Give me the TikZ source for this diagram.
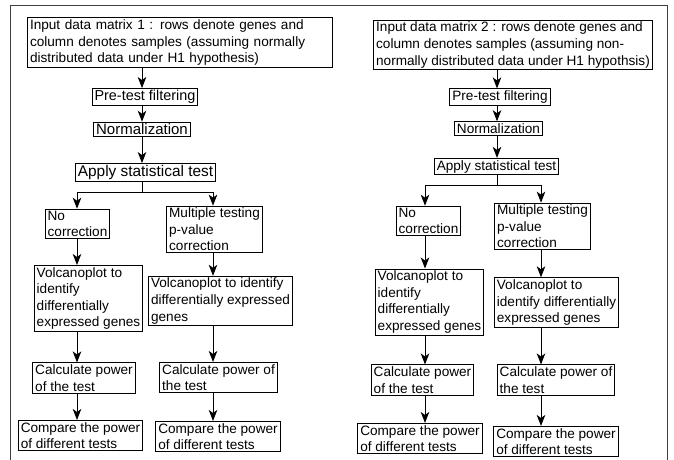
\documentclass[tikz,border=0pt]{standalone}
\usepackage{fontspec}
\setmainfont{Liberation Sans}
\usetikzlibrary{arrows.meta}

\begin{document}
\begin{tikzpicture}[x=1pt,y=-1pt,
    box/.style={draw,line width=0.9pt,align=left,inner xsep=2.5pt,inner ysep=1.8pt,font=\fontsize{13.6}{16.6}\selectfont},
    flow/.style={-{Stealth[length=11pt,width=8.5pt,inset=3pt]},line width=0.9pt}]
    \useasboundingbox (0,0) rectangle (674,459);
    \draw[line width=1pt,black!75] (10,470) -- (10,5) -- (667,5) -- (667,470);
    % columns of the arrows
    \coordinate (colA1) at (142,192);
    \coordinate (colL1) at (77,0);
    \coordinate (colR1) at (213,0);
    \coordinate (colA2) at (497,185);
    \coordinate (colL2) at (425,0);
    \coordinate (colR2) at (541,0);
    % first matrix
    \node[box,text width=300pt] (in1) at (180,42.5) {Input data matrix 1 : rows denote genes and\\column denotes samples (assuming normally\\distributed data under H1 hypothesis)};
    \node[box,font=\fontsize{14.4}{16.5}\selectfont] (pre1) at (145,97) {Pre-test filtering};
    \node[box,font=\fontsize{15}{16.5}\selectfont] (norm1) at (142,129.5) {Normalization};
    \node[box,font=\fontsize{15.4}{17}\selectfont] (app1) at (145.5,172.5) {Apply statistical test};
    \node[box] (noc1) at (77.5,224) {No\\correction};
    \node[box] (mul1) at (214.5,229.5) {Multiple testing\\p-value\\correction};
    \node[box] (volL1) at (88.5,298.5) {Volcanoplot to\\identify\\differentially\\expressed genes};
    \node[box] (volR1) at (220.5,301) {Volcanoplot to identify\\differentially expressed\\genes};
    \node[box] (calL1) at (84,378) {Calculate power\\of the test};
    \node[box] (calR1) at (218.5,377.5) {Calculate power of\\the test};
    \node[box] (cmpL1) at (80.5,435.5) {Compare the power\\of different tests};
    \node[box] (cmpR1) at (218,436.5) {Compare the power\\of different tests};
    \draw[flow] (in1.south -| colA1) -- (pre1.north -| colA1);
    \draw[flow] (pre1.south -| colA1) -- (norm1.north -| colA1);
    \draw[flow] (norm1.south -| colA1) -- (app1.north -| colA1);
    \draw[line width=0.9pt] (app1.south -| colA1) -- (colA1);
    \draw[flow] (colA1) -| (noc1.north -| colL1);
    \draw[flow] (colA1) -| (mul1.north -| colR1);
    \draw[flow] (noc1.south -| colL1) -- (volL1.north -| colL1);
    \draw[flow] (volL1.south -| colL1) -- (calL1.north -| colL1);
    \draw[flow] (calL1.south -| colL1) -- (cmpL1.north -| colL1);
    \draw[flow] (mul1.south -| colR1) -- (volR1.north -| colR1);
    \draw[flow] (volR1.south -| colR1) -- (calR1.north -| colR1);
    \draw[flow] (calR1.south -| colR1) -- (cmpR1.north -| colR1);
    % second matrix
    \node[box] (in2) at (513,45) {Input data matrix 2 : rows denote genes and\\column denotes samples (assuming non-\\normally distributed data under H1 hypothsis)};
    \node[box] (pre2) at (500,97) {Pre-test filtering};
    \node[box] (norm2) at (498.5,128.5) {Normalization};
    \node[box] (app2) at (496.5,166.5) {Apply statistical test};
    \node[box] (noc2) at (428.5,221) {No\\correction};
    \node[box] (mul2) at (542.5,226.5) {Multiple testing\\p-value\\correction};
    \node[box] (volL2) at (429.5,302) {Volcanoplot to\\identify\\differentially\\expressed genes};
    \node[box] (volR2) at (556.5,302.5) {Volcanoplot to\\identify differentially\\expressed genes};
    \node[box] (calL2) at (422.5,380) {Calculate power\\of the test};
    \node[box] (calR2) at (556,380) {Calculate power of\\the test};
    \node[box] (cmpL2) at (420,438.5) {Compare the power\\of different tests};
    \node[box] (cmpR2) at (556,441.5) {Compare the power\\of different tests};
    \draw[flow] (in2.south -| colA2) -- (pre2.north -| colA2);
    \draw[flow] (pre2.south -| colA2) -- (norm2.north -| colA2);
    \draw[flow] (norm2.south -| colA2) -- (app2.north -| colA2);
    \draw[line width=0.9pt] (app2.south -| colA2) -- (colA2);
    \draw[flow] (colA2) -| (noc2.north -| colL2);
    \draw[flow] (colA2) -| (mul2.north -| colR2);
    \draw[flow] (noc2.south -| colL2) -- (volL2.north -| colL2);
    \draw[flow] (volL2.south -| colL2) -- (calL2.north -| colL2);
    \draw[flow] (calL2.south -| colL2) -- (cmpL2.north -| colL2);
    \draw[flow] (mul2.south -| colR2) -- (volR2.north -| colR2);
    \draw[flow] (volR2.south -| colR2) -- (calR2.north -| colR2);
    \draw[flow] (calR2.south -| colR2) -- (cmpR2.north -| colR2);
\end{tikzpicture}
\end{document}
